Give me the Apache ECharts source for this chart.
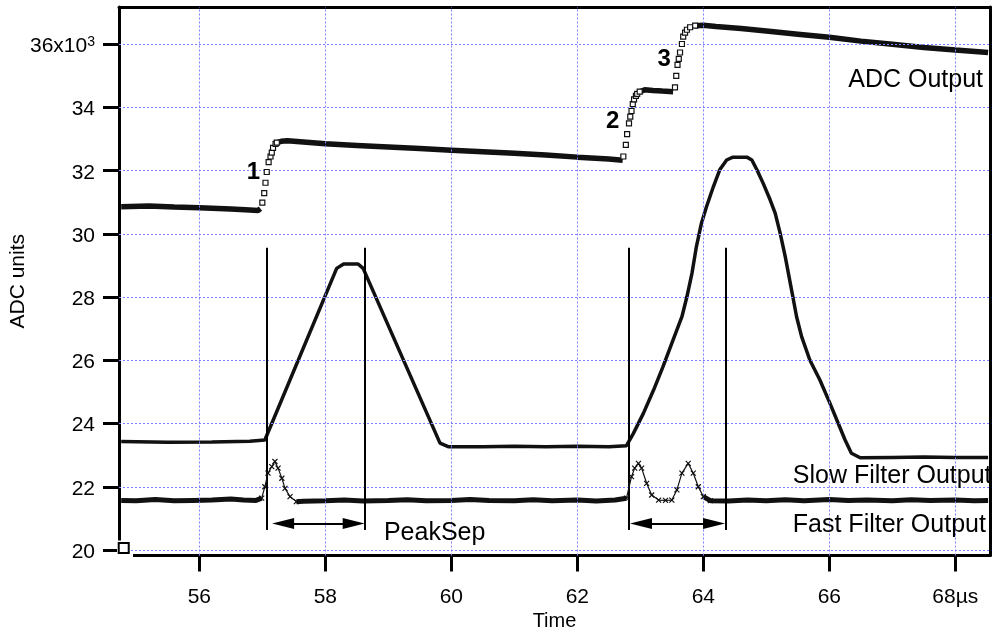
<!DOCTYPE html>
<html>
<head>
<meta charset="utf-8">
<script src="https://cdn.jsdelivr.net/npm/echarts@6/dist/echarts.min.js"></script>
<style>
html,body{margin:0;padding:0;background:#fff;}
#chart{width:993px;height:632px;}
</style>
</head>
<body>
<div id="chart"></div>
<script>
// ---- tick labels ----
const xTicks = [56, 58, 60, 62, 64, 66, 68];
const yTicks = [20, 22, 24, 26, 28, 30, 32, 34, 36];

// ---- ADC output (x10^3 ADC units), flat parts (null = break) ----
const adcFlatT = [54.76,55.2,55.6,56.0,56.5,56.8,56.93,56.97, null,
  57.23,57.3,57.4,57.6,58.0,58.5,59.0,59.5,60.0,60.5,61.0,61.5,62.0,62.5,62.72, null,
  62.99,63.07,63.2,63.35,63.52, null,
  63.87,64.0,64.2,64.6,65.0,65.5,66.0,66.5,67.0,67.5,68.0,68.52];
const adcFlatV = [30.86,30.88,30.85,30.83,30.79,30.76,30.74,30.80, null,
  32.89,32.93,32.95,32.92,32.85,32.80,32.75,32.70,32.65,32.60,32.55,32.50,32.43,32.37,32.33, null,
  34.50,34.56,34.54,34.52,34.50, null,
  36.59,36.60,36.56,36.50,36.42,36.32,36.22,36.10,36.00,35.90,35.82,35.74];
// ADC samples on the steps (drawn as open squares)
const adcStepT = [57.00,57.03,57.05,57.07,57.10,57.13,57.15,57.17,57.21,57.23,
  62.73,62.77,62.79,62.82,62.84,62.86,62.88,62.90,62.93,62.95,62.99,
  63.55,63.57,63.59,63.61,63.63,63.66,63.68,63.71,63.74,63.79,63.87];
const adcStepV = [30.99,31.29,31.62,31.96,32.27,32.45,32.57,32.72,32.85,32.89,
  32.45,32.82,33.16,33.50,33.71,33.89,34.11,34.26,34.37,34.43,34.50,
  34.64,35.00,35.35,35.54,35.74,36.01,36.24,36.37,36.46,36.54,36.59];

// ---- Slow filter output ----
const slowT = [54.76,55.5,56.2,56.8,57.04,58.18,58.29,58.52,58.60,59.82,59.95,60.5,61.0,61.5,62.0,62.5,62.78,
  62.89,63.05,63.21,63.36,63.52,63.66,63.74,63.82,63.89,63.97,64.05,64.16,64.26,64.37,64.47,64.69,64.77,
  64.85,64.95,65.06,65.14,65.22,65.30,65.36,65.42,65.48,65.56,65.69,65.85,66.01,66.14,66.25,66.35,66.49,
  67.0,67.5,68.0,68.52];
const slowV = [23.43,23.41,23.42,23.44,23.48,28.91,29.05,29.05,28.91,23.38,23.27,23.27,23.28,23.27,23.28,23.27,23.30,
  23.69,24.33,25.06,25.80,26.65,27.38,28.02,28.76,29.60,30.34,30.86,31.50,32.03,32.34,32.43,32.43,32.34,
  32.03,31.60,31.08,30.66,30.02,29.28,28.65,28.02,27.38,26.75,26.01,25.38,24.64,24.01,23.48,23.06,22.92,
  22.93,22.94,22.93,22.93];

// ---- Fast filter output: baseline (null = break) and peaks (crosses) ----
const fastBaseT = [54.76,55.0,55.3,55.6,55.9,56.2,56.5,56.7,56.9,56.99, null,
  57.54,57.65,58.0,58.3,58.6,59.0,59.3,59.6,60.0,60.3,60.6,61.0,61.3,61.6,62.0,62.3,62.6,62.78, null,
  64.0,64.11,64.4,64.7,65.0,65.3,65.6,66.0,66.3,66.6,67.0,67.3,67.6,68.0,68.3,68.52];
const fastBaseV = [21.57,21.56,21.60,21.56,21.57,21.58,21.61,21.58,21.57,21.64, null,
  21.53,21.54,21.56,21.58,21.55,21.57,21.59,21.56,21.57,21.60,21.57,21.56,21.59,21.56,21.58,21.55,21.58,21.64, null,
  21.69,21.56,21.55,21.58,21.56,21.59,21.56,21.60,21.57,21.58,21.56,21.59,21.57,21.58,21.56,21.57];
const fastPeakT = [56.99,57.04,57.09,57.15,57.20,57.25,57.31,57.36,57.44,57.54, null,
  62.78,62.86,62.91,62.97,63.02,63.10,63.18,63.29,63.40,63.50,63.58,63.66,63.76,63.84,63.92,64.0,64.11];
const fastPeakV = [21.64,22.00,22.43,22.64,22.80,22.59,22.27,21.95,21.69,21.53, null,
  21.64,22.32,22.59,22.74,22.59,22.11,21.74,21.58,21.57,21.58,21.90,22.43,22.74,22.43,22.00,21.69,21.56];

// ---- PeakSep annotation ----
const sepT = [57.07, 58.63, 62.81, 64.35];
const sepBottom = 20.63, sepTop = 29.56;
const arrowStart = [57.33, 63.01];
const arrowEnd = [58.45, 64.17];
const arrowV = 20.84;

// ---- text annotations ----
const noteText = ['1', '2', '3', 'ADC Output', 'Slow Filter Output', 'Fast Filter Output', 'PeakSep'];
const noteT = [56.86, 62.56, 63.38, 66.30, 65.42, 65.42, 58.93];
const noteV = [31.96, 33.56, 35.53, 34.87, 22.33, 20.79, 20.54];
const noteBold = [true, true, true, false, false, false, false];

// corner marker
const cornerMarker = [[54.80, 20.06]];

const X_MIN = 54.725, X_MAX = 68.55, Y_MIN = 19.826, Y_MAX = 37.18;
const FONT = '"Liberation Sans", Arial, sans-serif';
const INK = '#111';

function pairs(ts, vs) {
  return ts.map((t, i) => (t === null ? ['-', '-'] : [t, vs[i]]));
}

const gridLines = [];
xTicks.forEach(v => gridLines.push({ xAxis: v }));
yTicks.forEach(v => gridLines.push({ yAxis: v }));

const sepLines = sepT.map(t => [{ coord: [t, sepBottom] }, { coord: [t, sepTop] }]);
const arrowLines = arrowStart.map((s, i) => [{ coord: [s, arrowV] }, { coord: [arrowEnd[i], arrowV] }]);

const notes = noteText.map((txt, i) => ({
  value: [noteT[i], noteV[i]],
  name: txt,
  label: noteBold[i]
    ? { show: true, position: 'inside', formatter: txt, fontSize: 24, fontWeight: 'bold', color: '#000', fontFamily: FONT }
    : { show: true, position: 'right', distance: 0, formatter: txt, fontSize: 25, color: '#000', fontFamily: FONT }
}));

const chart = echarts.init(document.getElementById('chart'), null, { renderer: 'canvas' });
const axisLineStyle = { color: '#000', width: 3 };

chart.setOption({
  animation: false,
  backgroundColor: '#fff',
  grid: { left: 119, right: 3, top: 7, bottom: 76.5, containLabel: false, outerBoundsMode: 'none' },
  xAxis: [{
    type: 'value', min: X_MIN, max: X_MAX, position: 'bottom',
    name: 'Time', nameLocation: 'middle', nameGap: 56, nameMoveOverlap: false,
    nameTextStyle: { fontSize: 20, color: '#000', fontFamily: FONT },
    axisLine: { show: true, onZero: false, lineStyle: axisLineStyle },
    axisTick: { show: true, inside: false, length: 16, lineStyle: { width: 3, color: '#000' }, customValues: xTicks },
    axisLabel: { show: true, margin: 31, fontSize: 21, color: '#000', fontFamily: FONT, customValues: xTicks,
      formatter: v => (v === 68 ? '68µs' : String(v)) },
    splitLine: { show: false }
  }, {
    type: 'value', min: X_MIN, max: X_MAX, position: 'top',
    axisLine: { show: true, onZero: false, lineStyle: axisLineStyle },
    axisTick: { show: false }, axisLabel: { show: false }, splitLine: { show: false }
  }],
  yAxis: [{
    type: 'value', min: Y_MIN, max: Y_MAX, position: 'left',
    name: 'ADC units', nameLocation: 'middle', nameGap: 90, nameRotate: 90, nameMoveOverlap: false,
    nameTextStyle: { fontSize: 21, color: '#000', fontFamily: FONT },
    axisLine: { show: true, onZero: false, lineStyle: axisLineStyle },
    axisTick: { show: true, inside: false, length: 16, lineStyle: { width: 3, color: '#000' }, customValues: yTicks },
    axisLabel: { show: true, margin: 24, fontSize: 21, color: '#000', fontFamily: FONT, customValues: yTicks,
      padding: [4, 0, 0, 0],
      formatter: v => (v === 36 ? '{b|36x10}{s|3}' : String(v)),
      rich: {
        b: { fontSize: 21, color: '#000', fontFamily: FONT },
        s: { fontSize: 14, color: '#000', fontFamily: FONT, verticalAlign: 'top', padding: [0, 0, 8, 0] }
      } },
    splitLine: { show: false }
  }, {
    type: 'value', min: Y_MIN, max: Y_MAX, position: 'right',
    axisLine: { show: true, onZero: false, lineStyle: axisLineStyle },
    axisTick: { show: false }, axisLabel: { show: false }, splitLine: { show: false }
  }],
  series: [
    { // grid lines
      type: 'line', data: [], z: 1, silent: true,
      markLine: { silent: true, symbol: 'none', label: { show: false },
        lineStyle: { color: '#7f7fff', width: 1, type: [2, 2] }, data: gridLines }
    },
    { // PeakSep vertical lines and arrows
      type: 'line', data: [], z: 3, silent: true,
      markLine: { silent: true, symbol: 'none', label: { show: false },
        lineStyle: { color: '#000', width: 2, type: 'solid' },
        data: sepLines.concat(arrowLines.map(a => [
          Object.assign({ symbol: 'triangle', symbolSize: [11, 22] }, a[0]),
          Object.assign({ symbol: 'triangle', symbolSize: [11, 22] }, a[1])
        ])) }
    },
    {
      name: 'ADC Output', type: 'line', data: pairs(adcFlatT, adcFlatV), showSymbol: false, z: 4,
      lineStyle: { color: INK, width: 5.5 }, connectNulls: false
    },
    {
      name: 'ADC steps', type: 'scatter', data: pairs(adcStepT, adcStepV), z: 5,
      symbol: 'rect', symbolSize: 5, itemStyle: { color: '#fff', borderColor: INK, borderWidth: 1.2, opacity: 1 }
    },
    {
      name: 'Slow Filter Output', type: 'line', data: pairs(slowT, slowV), showSymbol: false, z: 4,
      lineStyle: { color: INK, width: 3.5 }
    },
    {
      name: 'Fast Filter Output', type: 'line', data: pairs(fastBaseT, fastBaseV), showSymbol: false, z: 4,
      lineStyle: { color: INK, width: 5 }, connectNulls: false
    },
    {
      name: 'Fast peaks', type: 'line', data: pairs(fastPeakT, fastPeakV), z: 5,
      showSymbol: true, symbol: 'path://M0,0L10,10M10,0L0,10', symbolSize: 5,
      itemStyle: { color: 'rgba(0,0,0,0)', borderColor: INK, borderWidth: 1.2, opacity: 1 },
      lineStyle: { color: INK, width: 1.2 }, connectNulls: false
    },
    {
      name: 'corner', type: 'scatter', data: cornerMarker, z: 5, symbol: 'rect', symbolSize: 10,
      itemStyle: { color: '#fff', borderColor: '#000', borderWidth: 2, opacity: 1 }
    },
    {
      name: 'notes', type: 'scatter', data: notes, symbolSize: 0, z: 6, silent: true,
      itemStyle: { opacity: 1 }
    }
  ]
});

// open the bottom-left corner of the axes (gap as in the reference)
const corner = chart.convertToPixel({ gridIndex: 0 }, [X_MIN, Y_MIN]);
chart.setOption({
  graphic: [{
    type: 'rect', z: 1, silent: true,
    shape: { x: corner[0] - 2, y: corner[1] - 15, width: 16, height: 19 },
    style: { fill: '#fff' }
  }]
});
</script>
</body>
</html>
